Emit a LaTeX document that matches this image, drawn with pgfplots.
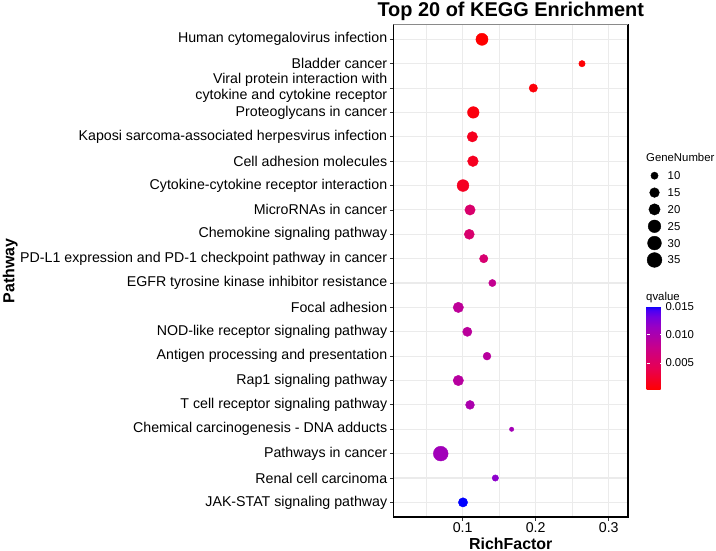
\documentclass[border=0pt]{standalone}
\usepackage{pgfplots}
\pgfplotsset{compat=1.18}
\usepackage{pgfplotstable}
\usepackage{fontspec}
\setmainfont{Liberation Sans}

\definecolor{gridgray}{HTML}{EBEBEB}
\definecolor{tickgray}{HTML}{333333}
\definecolor{framegray}{HTML}{8A8A8A}

% red -> blue gradient (interpolated in Lab, sampled)
\pgfplotsset{colormap={redblue}{
  rgb255(0cm)=(255,0,0) rgb255(2.5cm)=(232,0,80) rgb255(5cm)=(201,0,137)
  rgb255(7.5cm)=(154,0,194) rgb255(8.75cm)=(115,0,224) rgb255(9.5cm)=(75,0,243)
  rgb255(10cm)=(0,0,255)}}

% KEGG pathways, top row = 20
\pgfplotstableread{
y  rich    genes  q
20 0.1264  23  0.0002
19 0.2634  9   0.0004
18 0.1967  12  0.0006
17 0.1145  21  0.0008
16 0.1132  17  0.0016
15 0.1140  18  0.0017
14 0.1004  22  0.0018
13 0.1100  17  0.0057
12 0.1090  16  0.0058
11 0.1288  12  0.0060
10 0.1406  10  0.0081
9  0.0940  17  0.0086
8  0.1063  14  0.0088
7  0.1333  11  0.0090
6  0.0940  17  0.0091
5  0.1100  13  0.0100
4  0.1670  8   0.0106
3  0.0699  35  0.0108
2  0.1447  9   0.0120
1  0.1004  14  0.0151
}\keggdata

% size key: position (bp) and gene number
\pgfplotstableread{
x      y      genes
261.0  341.3  10
261.0  324.4  15
261.0  307.6  20
261.0  290.7  25
261.0  273.9  30
261.0  257.0  35
}\sizekey

\newcommand{\ticklabelfont}{\fontsize{14.25}{15.7}\selectfont}
\newcommand{\keyfont}{\fontsize{11.4}{12}\selectfont}
\newcommand{\labelfont}{\bfseries\fontsize{16}{18}\selectfont}
\newcommand{\titlefont}{\bfseries\fontsize{20}{22}\selectfont}

\begin{document}
\begin{tikzpicture}
\useasboundingbox (-393.5bp,-34bp) rectangle (322.5bp,517bp);
\begin{axis}[
  at={(0,0)}, anchor=south west,
  scale only axis, width=234.5bp, height=492.3bp,
  xmin=0.0052, xmax=0.3264, ymin=0.4, ymax=20.6,
  xtick={0.1,0.2,0.3}, minor xtick={0.05,0.15,0.25},
  ytick={1,...,20},
  yticklabels={
    JAK-STAT signaling pathway,
    Renal cell carcinoma,
    Pathways in cancer,
    Chemical carcinogenesis - DNA adducts,
    T cell receptor signaling pathway,
    Rap1 signaling pathway,
    Antigen processing and presentation,
    NOD-like receptor signaling pathway,
    Focal adhesion,
    EGFR tyrosine kinase inhibitor resistance,
    PD-L1 expression and PD-1 checkpoint pathway in cancer,
    Chemokine signaling pathway,
    MicroRNAs in cancer,
    Cytokine-cytokine receptor interaction,
    Cell adhesion molecules,
    Kaposi sarcoma-associated herpesvirus infection,
    Proteoglycans in cancer,
    {Viral protein interaction with\\cytokine and cytokine receptor},
    Bladder cancer,
    Human cytomegalovirus infection},
  /pgf/number format/assume math mode=true,
  grid=both,
  major grid style={gridgray, line width=1.1bp},
  minor grid style={gridgray, line width=0.6bp},
  axis line style={black, line width=1.1bp},
  tick pos=left, tick align=outside,
  major tick length=3.5bp, minor tick length=0pt,
  tick style={tickgray, line width=0.8bp},
  xticklabel style={font=\ticklabelfont, text=black, inner sep=1.5bp},
  yticklabel style={font=\ticklabelfont, text=black, inner sep=2.6bp, align=right},
  xlabel={RichFactor},
  xlabel style={at={(axis description cs:0.5,0)}, anchor=base, yshift=-32bp, font=\labelfont},
  ylabel={Pathway},
  ylabel style={at={(axis description cs:-1.6162,0.5)}, anchor=base, font=\labelfont},
  title={Top 20 of KEGG Enrichment},
  title style={at={(axis description cs:0.5,1)}, anchor=base, yshift=2.7bp, font=\titlefont},
  colormap name=redblue,
  point meta min=0.0002, point meta max=0.0151,
  colorbar,
  colorbar style={
    at={(parent axis.south east)}, anchor=south west,
    xshift=10bp, yshift=127bp,
    scale only axis, width=17.3bp, height=84bp,
    ytick={0.005,0.010,0.015},
    scaled y ticks=false,
    ytick pos=both, yticklabel pos=right,
    tick align=inside, major tick length=3.5bp,
    major tick style={white, line width=0.7bp},
    axis line style={draw=none},
    yticklabel style={font=\keyfont, text=black, inner sep=1.5bp},
    /pgf/number format/fixed,
    /pgf/number format/fixed zerofill,
    /pgf/number format/precision=3,
    /pgf/number format/assume math mode=true,
  },
]
\addplot[scatter, only marks, mark=*,
  point meta=explicit,
  scatter/use mapped color={draw=mapped color, fill=mapped color},
  visualization depends on={2.2+sqrt(\thisrow{genes}-8) \as \rad},
  scatter/@pre marker code/.append style={/tikz/mark size=\rad bp}]
  table[x=rich, y=y, meta=q] {\keggdata};
\draw[framegray, line width=0.8bp] (rel axis cs:0,1) -- (rel axis cs:1,1);
\end{axis}

% size key and legend titles
\begin{axis}[
  at={(0,0)}, anchor=south west,
  scale only axis, width=322.5bp, height=517bp,
  xmin=0, xmax=322.5, ymin=0, ymax=517,
  hide axis, clip=false,
  /pgf/number format/assume math mode=true,
]
% key dots
\addplot[scatter, only marks, mark=*,
  point meta=explicit,
  scatter/use mapped color={draw=black, fill=black},
  visualization depends on={2.2+sqrt(\thisrow{genes}-8) \as \rad},
  scatter/@pre marker code/.append style={/tikz/mark size=\rad bp}]
  table[x=x, y=y, meta=genes] {\sizekey};
% key labels
\addplot[draw=none, mark=none,
  point meta=explicit,
  nodes near coords,
  nodes near coords style={anchor=west, xshift=13bp, inner sep=0pt, font=\keyfont, text=black}]
  table[x=x, y=y, meta=genes] {\sizekey};
\node[anchor=base west, inner sep=0pt, font=\keyfont] at (axis cs:252.5,355.3) {GeneNumber};
\node[anchor=base west, inner sep=0pt, font=\keyfont] at (axis cs:252.5,216.0) {qvalue};
\end{axis}
\end{tikzpicture}
\end{document}
